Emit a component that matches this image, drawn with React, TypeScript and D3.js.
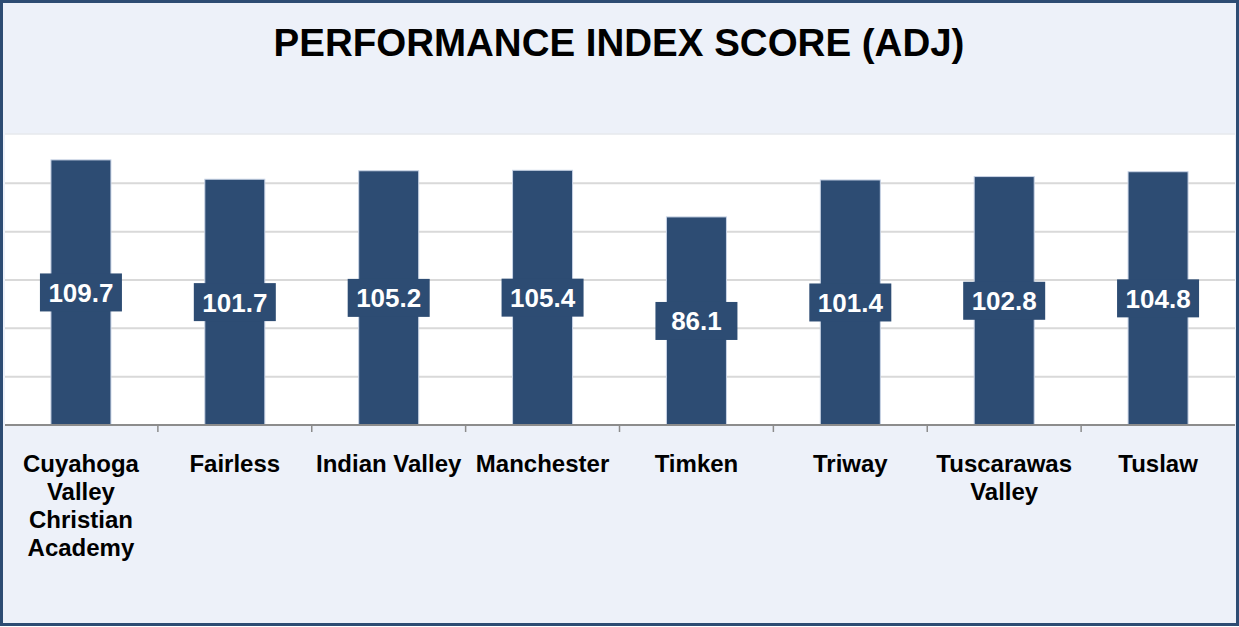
import React, { useEffect, useRef } from "react";
import * as d3 from "d3";

const categories = [
  "Cuyahoga Valley Christian Academy",
  "Fairless",
  "Indian Valley",
  "Manchester",
  "Timken",
  "Triway",
  "Tuscarawas Valley",
  "Tuslaw",
];
const scores = [109.7, 101.7, 105.2, 105.4, 86.1, 101.4, 102.8, 104.8];
const yTicks = [0, 20, 40, 60, 80, 100, 120];
const title = "PERFORMANCE INDEX SCORE (ADJ)";

const W = 1239;
const H = 627;
const FONT = "'Liberation Sans', Arial, sans-serif";
const NAVY = "#2D4C73";

// greedy word wrap using canvas text metrics
function wrap(text: string, maxW: number, font: string): string[] {
  const ctx = document.createElement("canvas").getContext("2d")!;
  ctx.font = font;
  const words = text.split(" ");
  const lines: string[] = [];
  let cur = "";
  words.forEach((w) => {
    const t = cur ? cur + " " + w : w;
    if (cur && ctx.measureText(t).width > maxW) {
      lines.push(cur);
      cur = w;
    } else cur = t;
  });
  if (cur) lines.push(cur);
  return lines;
}

export default function App() {
  const ref = useRef<SVGSVGElement>(null);

  useEffect(() => {
    const svg = d3.select(ref.current);
    svg.selectAll("*").remove();

    const left = 4, right = 1235, top = 135, bottom = 425;

    // frame
    svg.append("rect").attr("x", 1.5).attr("y", 1.5).attr("width", W - 3).attr("height", H - 4)
      .attr("fill", "#EDF1F9").attr("stroke", NAVY).attr("stroke-width", 3);

    // plot area
    svg.append("rect").attr("x", left + 1).attr("y", top - 1).attr("width", right - left - 1).attr("height", bottom - top + 1)
      .attr("fill", "#ffffff");
    svg.append("line").attr("x1", left + 1).attr("x2", right).attr("y1", top - 1).attr("y2", top - 1)
      .attr("stroke", "#e6e8ec").attr("stroke-width", 1.5);

    const x = d3.scaleBand<string>().domain(categories).range([left, right]).padding(0);
    const y = d3.scaleLinear().domain([0, 120]).range([bottom, top]);
    const barW = x.step() * 0.39;

    // gridlines
    svg.append("g").selectAll("line").data(yTicks.slice(1, -1)).join("line")
      .attr("x1", left + 1).attr("x2", right)
      .attr("y1", (d) => y(d)).attr("y2", (d) => y(d))
      .attr("stroke", "#d9d9d9").attr("stroke-width", 2);

    // bars
    svg.append("g").selectAll("rect").data(scores).join("rect")
      .attr("x", (_, i) => x(categories[i])! + x.bandwidth() / 2 - barW / 2)
      .attr("y", (d) => y(d))
      .attr("width", barW)
      .attr("height", (d) => bottom - y(d))
      .attr("fill", NAVY).attr("stroke", "#c9d4e6").attr("stroke-width", 1);

    // x axis
    svg.append("line").attr("x1", left + 1).attr("x2", right).attr("y1", bottom).attr("y2", bottom)
      .attr("stroke", "#8c8c8c").attr("stroke-width", 2);
    svg.append("g").selectAll("line").data(categories.slice(1)).join("line")
      .attr("x1", (d) => x(d)!).attr("x2", (d) => x(d)!)
      .attr("y1", bottom).attr("y2", bottom + 7)
      .attr("stroke", "#8c8c8c").attr("stroke-width", 1.5);

    // value labels
    const lab = svg.append("g").selectAll("g").data(scores).join("g")
      .attr("transform", (d, i) => `translate(${x(categories[i])! + x.bandwidth() / 2},${(y(d) + bottom) / 2})`);
    lab.append("rect").attr("x", -41).attr("y", -19).attr("width", 82).attr("height", 38).attr("fill", NAVY);
    lab.append("text").text((d) => d.toFixed(1))
      .attr("text-anchor", "middle").attr("y", 9.5)
      .attr("fill", "#ffffff").attr("font-family", FONT).attr("font-weight", "bold").attr("font-size", 26);

    // category labels
    const catFont = `bold 24px ${FONT}`;
    categories.forEach((c) => {
      const lines = wrap(c, x.step() - 4, catFont);
      const t = svg.append("text").attr("text-anchor", "middle")
        .attr("font-family", FONT).attr("font-weight", "bold").attr("font-size", 24).attr("fill", "#000");
      lines.forEach((ln, k) => {
        t.append("tspan").attr("x", x(c)! + x.bandwidth() / 2).attr("y", 472 + k * 28).text(ln);
      });
    });

    // title
    svg.append("text").text(title).attr("x", 619).attr("y", 56)
      .attr("text-anchor", "middle").attr("font-family", FONT).attr("font-weight", "bold")
      .attr("font-size", 38.5).attr("fill", "#000");
  }, []);

  return (
    <svg ref={ref} width={W} height={H} style={{ position: "absolute", left: 0, top: 0 }} />
  );
}
